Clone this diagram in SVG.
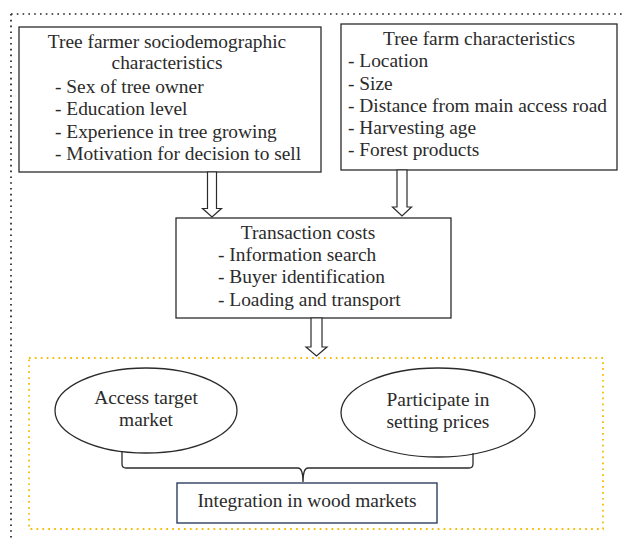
<svg xmlns="http://www.w3.org/2000/svg" width="624" height="540" viewBox="0 0 624 540">
  <style>
    .box { fill: #fff; stroke: #2b2b2b; stroke-width: 1.3; }
    .ell { fill: #fff; stroke: #2b2b2b; stroke-width: 1.3; }
    .arrow { fill: #fff; stroke: #2b2b2b; stroke-width: 1.2; stroke-linejoin: miter; }
    .brace { fill: none; stroke: #2b2b2b; stroke-width: 1.3; }
    text { font-family: "Liberation Serif", "Times New Roman", serif; font-size: 19.4px; fill: #2b2b2b; }
    .c { text-anchor: middle; }
  </style>
  <rect width="624" height="540" fill="#fff"/>

  <!-- outer dotted frame (top and left edges) -->
  <path d="M11,14 H624 M11,14 V540" fill="none" stroke="#222" stroke-width="1.7" stroke-dasharray="1.6 4.2"/>

  <!-- inner golden dotted frame -->
  <rect x="29" y="358" width="574" height="171" fill="none" stroke="#f5bd00" stroke-width="1.8" stroke-dasharray="1.7 4.2"/>

  <g id="sociodemographic">
    <rect class="box" x="19" y="27" width="302" height="145"/>
    <text class="c" x="167" y="48">Tree farmer sociodemographic</text>
    <text class="c" x="167" y="69">characteristics</text>
    <text x="55" y="93">- Sex of tree owner</text>
    <text x="55" y="115">- Education level</text>
    <text x="55" y="138">- Experience in tree growing</text>
    <text x="55" y="160">- Motivation for decision to sell</text>
  </g>

  <g id="farm">
    <rect class="box" x="341" y="24" width="276" height="146"/>
    <text class="c" x="479" y="45">Tree farm characteristics</text>
    <text x="348" y="67">- Location</text>
    <text x="348" y="90">- Size</text>
    <text x="348" y="112">- Distance from main access road</text>
    <text x="348" y="134">- Harvesting age</text>
    <text x="348" y="156">- Forest products</text>
  </g>

  <g id="transaction">
    <rect class="box" x="176" y="218" width="275" height="100"/>
    <text class="c" x="308" y="239">Transaction costs</text>
    <text x="218" y="261">- Information search</text>
    <text x="218" y="283">- Buyer identification</text>
    <text x="218" y="306">- Loading and transport</text>
  </g>

  <g id="access">
    <ellipse class="ell" cx="146" cy="410.5" rx="91" ry="42.5"/>
    <text class="c" x="146" y="404">Access target</text>
    <text class="c" x="146" y="426">market</text>
  </g>

  <g id="prices">
    <ellipse class="ell" cx="438" cy="412.5" rx="97" ry="44.5"/>
    <text class="c" x="438" y="406">Participate in</text>
    <text class="c" x="438" y="428">setting prices</text>
  </g>

  <g id="integration">
    <rect x="177" y="483" width="260" height="40" fill="#fff" stroke="#2e3f5f" stroke-width="1.4"/>
    <text class="c" x="307" y="507">Integration in wood markets</text>
  </g>

  <g id="connectors">
    <polygon class="arrow" points="207.5,172 216.5,172 216.5,208.5 221.5,208.5 212,217 202.5,208.5 207.5,208.5"/>
    <polygon class="arrow" points="397,170 407,170 407,207 411.5,207 402,216 392.5,207 397,207"/>
    <polygon class="arrow" points="311,318 322,318 322,347 327,347 316.5,356 306,347 311,347"/>
    <path class="brace" d="M122,452 V464 Q122,468 126,468 H298 Q303,468 303,482 Q303,468 308,468 H469 Q473,468 473,464 V453"/>
  </g>
</svg>
